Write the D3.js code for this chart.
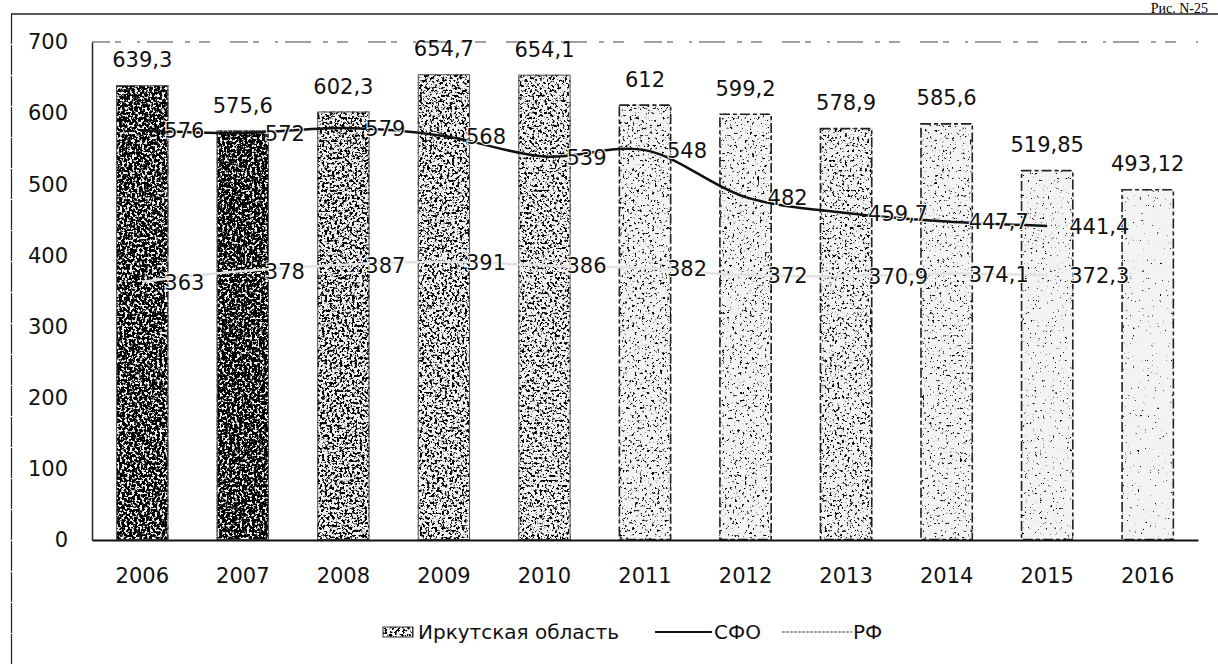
<!DOCTYPE html>
<html>
<head>
<meta charset="utf-8">
<script src="https://cdn.jsdelivr.net/npm/d3@7"></script>
<style>
  body { margin: 0; background: #fff; }
  svg { display: block; font-family: "DejaVu Sans", sans-serif; }
</style>
</head>
<body>
<script>
// data
const years = ["2006", "2007", "2008", "2009", "2010", "2011", "2012", "2013", "2014", "2015", "2016"];
const irkutsk = [639.3, 575.6, 602.3, 654.7, 654.1, 612, 599.2, 578.9, 585.6, 519.85, 493.12];
const sfo = [576, 572, 579, 568, 539, 548, 482, 459.7, 447.7, 441.4];
const rf = [363, 378, 387, 391, 386, 382, 372, 370.9, 374.1, 372.3];
const yTicks = [0, 100, 200, 300, 400, 500, 600, 700];

// how dark the scanned texture of each bar is (noise threshold)
const shade = [0.6, 0.62, 0.51, 0.49, 0.47, 0.39, 0.37, 0.41, 0.35, 0.31, 0.28];

const W = 1218, H = 665;
const fmt = (v) => String(v).replace(".", ",");

const svg = d3.select("body").append("svg")
  .attr("width", W)
  .attr("height", H);

const defs = svg.append("defs");

function noiseFilter(id, t, seed) {
  const f = defs.append("filter")
    .attr("id", id)
    .attr("x", 0).attr("y", 0).attr("width", 1).attr("height", 1)
    .attr("color-interpolation-filters", "sRGB");
  f.append("feTurbulence")
    .attr("type", "fractalNoise")
    .attr("baseFrequency", 0.4)
    .attr("numOctaves", 3)
    .attr("seed", seed)
    .attr("result", "n");
  const k = 10;
  f.append("feColorMatrix")
    .attr("in", "n")
    .attr("type", "matrix")
    .attr("values", `0 0 0 0 0  0 0 0 0 0  0 0 0 0 0  ${-k} 0 0 0 ${k * t}`)
    .attr("result", "m");
  f.append("feComposite")
    .attr("in", "m")
    .attr("in2", "SourceGraphic")
    .attr("operator", "in");
}

shade.forEach((t, i) => noiseFilter(`grain${i}`, t, i + 3));
noiseFilter("grainLegend", 0.5, 40);

// outer frame of the scanned page (top and left edges only)
svg.append("line")
  .attr("x1", 11).attr("y1", 14).attr("x2", W).attr("y2", 14)
  .style("stroke", "#222").style("stroke-width", 1.5);
svg.append("line")
  .attr("x1", 11.5).attr("y1", 14).attr("x2", 11.5).attr("y2", H)
  .style("stroke", "#222").style("stroke-width", 1.2)
  .style("stroke-dasharray", "30,1");

svg.append("text")
  .attr("x", 1208).attr("y", 13)
  .attr("text-anchor", "end")
  .style("font-family", "'Liberation Serif', serif")
  .style("font-size", "14px")
  .text("Рис. N-25");

const x = d3.scaleBand()
  .domain(years)
  .range([92, 1198])
  .paddingInner(0.48)
  .paddingOuter(0.24);

const y = d3.scaleLinear()
  .domain([0, 700])
  .range([540, 42]);

const cx = (d) => x(d) + x.bandwidth() / 2;

// top border of plot area, broken up by the scan
svg.append("line")
  .attr("x1", 92).attr("x2", 1198)
  .attr("y1", y(700)).attr("y2", y(700))
  .style("stroke", "#444")
  .style("stroke-width", 1.2)
  .style("stroke-dasharray", "18,5,6,16,3,7,26,12,5,9,11,20");

// y axis
const yAxis = svg.append("g")
  .attr("transform", "translate(92,0)")
  .call(d3.axisLeft(y).tickValues(yTicks).tickSize(0).tickPadding(24));
yAxis.select(".domain").style("stroke", "#222").style("stroke-width", 1.5);
yAxis.selectAll("text")
  .style("font-family", "'DejaVu Sans', sans-serif")
  .style("font-size", "21px")
  .style("fill", "#111");

// bars
const bars = svg.append("g");
years.forEach((yr, i) => {
  const v = irkutsk[i];
  bars.append("rect")
    .attr("x", x(yr))
    .attr("y", y(v))
    .attr("width", x.bandwidth())
    .attr("height", y(0) - y(v))
    .style("fill", "#f3f3f3");
  bars.append("rect")
    .attr("x", x(yr))
    .attr("y", y(v))
    .attr("width", x.bandwidth())
    .attr("height", y(0) - y(v))
    .style("fill", "#fff")
    .attr("filter", `url(#grain${i})`);
  bars.append("rect")
    .attr("x", x(yr) + 0.5)
    .attr("y", y(v) + 0.5)
    .attr("width", x.bandwidth() - 1)
    .attr("height", y(0) - y(v) - 1)
    .style("fill", "none")
    .style("stroke", i < 5 ? "#555" : "#222")
    .style("stroke-width", i < 5 ? 1 : 1.6)
    .style("stroke-dasharray", i < 5 ? null : "10,3,4,3");
});

// x axis
const xAxis = svg.append("g")
  .attr("transform", `translate(0,${y(0)})`)
  .call(d3.axisBottom(x).tickSize(0).tickPadding(28));
xAxis.select(".domain").style("stroke", "#111").style("stroke-width", 2);
xAxis.selectAll("text")
  .style("font-family", "'DejaVu Sans', sans-serif")
  .style("font-size", "21px")
  .style("fill", "#111");

// bar value labels
svg.append("g").selectAll("text")
  .data(irkutsk)
  .join("text")
  .attr("x", (d, i) => cx(years[i]))
  .attr("y", (d) => y(d) - 18)
  .attr("text-anchor", "middle")
  .style("font-size", "21px")
  .style("fill", "#111")
  .text((d) => fmt(d));

// lines
const line = d3.line()
  .x((d, i) => cx(years[i]))
  .y((d) => y(d))
  .curve(d3.curveCatmullRom.alpha(0.5));

svg.append("path")
  .datum(rf)
  .attr("d", line)
  .style("fill", "none")
  .style("stroke", "#e2e2e2")
  .style("stroke-width", 2.5);

svg.append("path")
  .datum(sfo)
  .attr("d", line)
  .style("fill", "none")
  .style("stroke", "#111")
  .style("stroke-width", 2.5);

function lineLabels(vals) {
  svg.append("g").selectAll("text")
    .data(vals)
    .join("text")
    .attr("x", (d, i) => cx(years[i]) + 22)
    .attr("y", (d) => y(d) + 8)
    .style("font-size", "21px")
    .style("fill", "#111")
    .style("stroke", "#fff")
    .style("stroke-width", 2)
    .style("paint-order", "stroke")
    .text((d) => fmt(d));
}
lineLabels(sfo);
lineLabels(rf);

// legend
const lg = svg.append("g").attr("transform", "translate(0,632)");
lg.append("rect")
  .attr("x", 383).attr("y", -5).attr("width", 30).attr("height", 10)
  .style("fill", "#fff")
  .attr("filter", "url(#grainLegend)");
lg.append("rect")
  .attr("x", 383).attr("y", -5).attr("width", 30).attr("height", 10)
  .style("fill", "none").style("stroke", "#333").style("stroke-width", 1);
lg.append("text")
  .attr("x", 418).attr("y", 7)
  .style("font-size", "20px").style("fill", "#111")
  .text("Иркутская область");
lg.append("line")
  .attr("x1", 655).attr("x2", 712).attr("y1", 0).attr("y2", 0)
  .style("stroke", "#111").style("stroke-width", 2);
lg.append("text")
  .attr("x", 714).attr("y", 7)
  .style("font-size", "20px").style("fill", "#111")
  .text("СФО");
lg.append("line")
  .attr("x1", 782).attr("x2", 852).attr("y1", 0).attr("y2", 0)
  .style("stroke", "#444").style("stroke-width", 1)
  .style("stroke-dasharray", "3,1");
lg.append("text")
  .attr("x", 853).attr("y", 7)
  .style("font-size", "20px").style("fill", "#111")
  .text("РФ");
</script>
</body>
</html>
